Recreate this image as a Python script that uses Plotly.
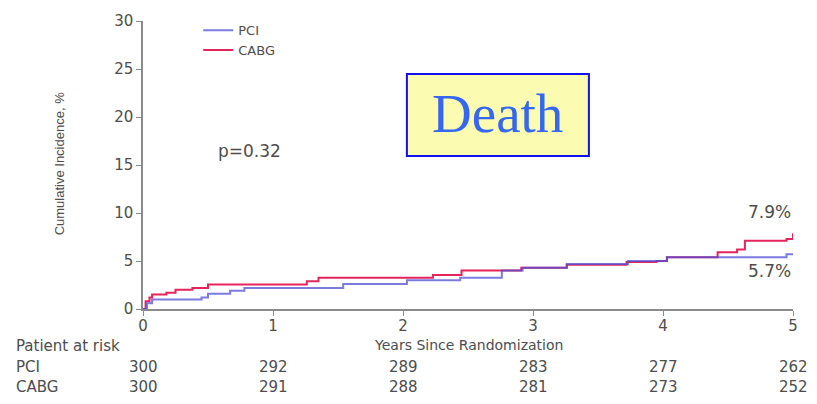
import plotly.graph_objects as go

# Kaplan-Meier style cumulative incidence of death (step functions)
pci_years = [0, 0.03, 0.07, 0.45, 0.50, 0.67, 0.78, 1.54, 2.03, 2.44, 2.76, 2.92, 3.26, 3.73, 4.03, 4.95, 5.0]
pci_pct = [0, 0.6, 1.0, 1.2, 1.6, 1.9, 2.2, 2.6, 3.0, 3.25, 4.0, 4.3, 4.7, 5.0, 5.4, 5.7, 5.7]

cabg_years = [0, 0.02, 0.05, 0.07, 0.18, 0.25, 0.38, 0.50, 1.26, 1.35, 2.23, 2.45, 2.91, 3.26, 3.72, 3.95, 4.03, 4.42, 4.57, 4.63, 4.95, 5.0]
cabg_pct = [0, 0.8, 1.2, 1.5, 1.7, 2.0, 2.2, 2.55, 2.9, 3.25, 3.55, 4.0, 4.3, 4.6, 4.9, 5.0, 5.4, 5.9, 6.2, 7.1, 7.3, 7.9]

# Numbers at risk
risk_years = [0, 1, 2, 3, 4, 5]
pci_at_risk = [300, 292, 289, 283, 277, 262]
cabg_at_risk = [300, 291, 288, 281, 273, 252]

pci_final = "5.7%"
cabg_final = "7.9%"
p_value = "p=0.32"

PCI_COLOR = "#4f4fd6"
CABG_COLOR = "#e5245c"
TEXT = "#4d4d4d"
AXIS = "#8a8a8a"
FONT = "DejaVu Sans, Verdana, sans-serif"

fig = go.Figure()
fig.add_trace(go.Scatter(
    x=cabg_years, y=cabg_pct, mode="lines", name="CABG",
    line=dict(color=CABG_COLOR, width=2, shape="hv"),
))
fig.add_trace(go.Scatter(
    x=pci_years, y=pci_pct, mode="lines", name="PCI", opacity=0.75,
    line=dict(color=PCI_COLOR, width=2, shape="hv"),
))

fig.update_layout(
    width=817, height=404,
    margin=dict(l=143, r=24, t=15, b=95),
    paper_bgcolor="white", plot_bgcolor="white",
    font=dict(family=FONT, color=TEXT, size=14),
    showlegend=True,
    legend=dict(
        x=0.085, y=1.02, xanchor="left", yanchor="top",
        traceorder="reversed", bgcolor="rgba(0,0,0,0)",
        font=dict(size=13, color=TEXT), itemwidth=30,
        tracegroupgap=0,
    ),
    xaxis=dict(
        range=[0, 5], tickvals=risk_years, showgrid=False, zeroline=False,
        showline=True, linecolor=AXIS, linewidth=1.5,
        ticks="outside", ticklen=5, tickcolor=AXIS, ticklabelstandoff=-3,
        tickfont=dict(size=15, color=TEXT),
    ),
    yaxis=dict(
        range=[0, 30], tickvals=[0, 5, 10, 15, 20, 25, 30], showgrid=False,
        zeroline=False, showline=True, linecolor=AXIS, linewidth=1.5,
        ticks="outside", ticklen=5, tickcolor=AXIS,
        tickfont=dict(size=15, color=TEXT),
    ),
)


def note(text, x, y, xref="paper", yref="paper", size=15, **kw):
    kw.setdefault("xanchor", "center")
    kw.setdefault("yanchor", "middle")
    font = dict(size=size, color=kw.pop("color", TEXT))
    if "family" in kw:
        font["family"] = kw.pop("family")
    return dict(xref=xref, yref=yref, x=x, y=y, text=text, showarrow=False,
                font=font, **kw)


annotations = [
    note("Cumulative Incidence, %", -0.128, 0.505, size=13, textangle=-90,
         family="Liberation Sans, Arial, sans-serif"),
    note("Years Since Randomization", 2.5, -0.125, xref="x", size=14),
    note(p_value, 0.82, 16.5, xref="x", yref="y", size=17),
    note(cabg_final, 5.0, 10.1, xref="x", yref="y", size=17, xanchor="right"),
    note(pci_final, 5.0, 4.0, xref="x", yref="y", size=17, xanchor="right"),
    note("Death", 0.546, 0.68, size=55, color="#3568f2",
         family="Liberation Serif, DejaVu Serif, serif"),
    note("Patient at risk", -0.198, -0.13, xanchor="left", size=15),
    note("PCI", -0.198, -0.203, xanchor="left", size=15),
    note("CABG", -0.198, -0.27, xanchor="left", size=15),
]
for yr, a, b in zip(risk_years, pci_at_risk, cabg_at_risk):
    annotations.append(note(str(a), yr, -0.203, xref="x", size=15))
    annotations.append(note(str(b), yr, -0.27, xref="x", size=15))
fig.update_layout(annotations=annotations)

# Highlighted title box
fig.add_shape(type="rect", xref="paper", yref="paper",
              x0=0.406, x1=0.686, y0=0.531, y1=0.816,
              fillcolor="#fbfcb2", line=dict(color="#1010f0", width=2),
              layer="below")

fig.write_html("out.html")
